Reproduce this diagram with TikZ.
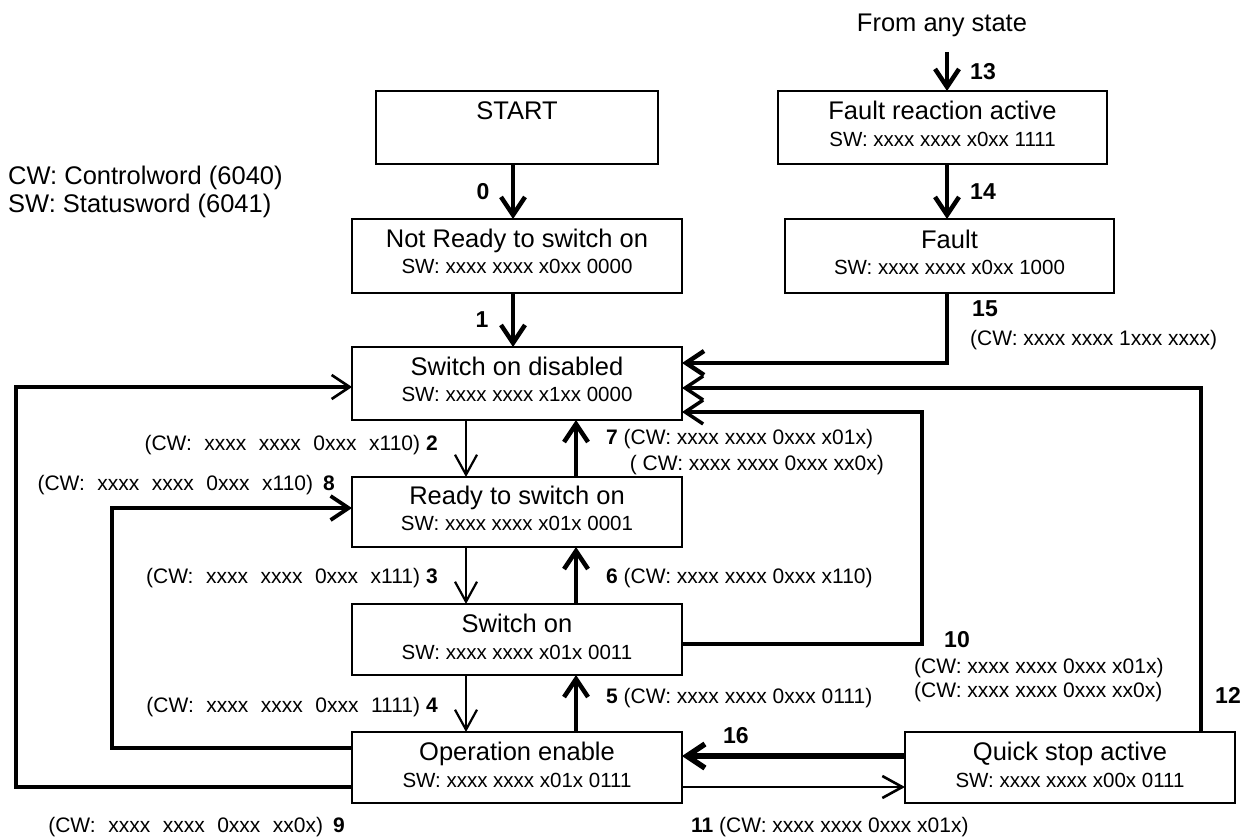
\documentclass[tikz,border=0pt]{standalone}
\usepackage{fontspec}
\setmainfont{Liberation Sans}
\usetikzlibrary{arrows.meta}
\newcommand{\wg}{\hspace{12.5pt}}
\begin{document}
\begin{tikzpicture}[x=1pt,y=-1pt,
  box/.style={draw, line width=1.5pt, inner sep=0pt, outer sep=0pt, anchor=north west},
  ttl/.style={anchor=base, inner sep=0pt, font=\fontsize{25.5}{30}\selectfont},
  swt/.style={anchor=base, inner sep=0pt, font=\fontsize{20.5}{24}\selectfont},
  lbl/.style={inner sep=0pt, font=\fontsize{21}{25}\selectfont},
  num/.style={inner sep=0pt, font=\bfseries\fontsize{23}{27}\selectfont},
  thk/.style={line width=4.5pt, -{Straight Barb[length=18pt,width=24pt]}},
  thn/.style={line width=2.2pt, -{Straight Barb[length=20pt,width=22pt]}},
  lp/.style={line width=3.8pt, -{Straight Barb[length=18pt,width=24pt]}},
]
\useasboundingbox (0,0) rectangle (1250,837);

% boxes
\node[box, minimum width=282pt, minimum height=73pt] (start) at (376,91) {};
\node[box, minimum width=330pt, minimum height=74pt] (nr) at (352,219) {};
\node[box, minimum width=330pt, minimum height=73pt] (sod) at (352,347) {};
\node[box, minimum width=330pt, minimum height=70pt] (rdy) at (352,477) {};
\node[box, minimum width=330pt, minimum height=71pt] (son) at (352,604) {};
\node[box, minimum width=330pt, minimum height=71pt] (oe) at (352,732) {};
\node[box, minimum width=329pt, minimum height=73pt] (fra) at (778,91) {};
\node[box, minimum width=329pt, minimum height=74pt] (flt) at (785,219) {};
\node[box, minimum width=330pt, minimum height=71pt] (qs) at (905,732) {};

% box texts
\node[ttl] (startT) at ([yshift=-28.5pt]start.north) {START};
\node[ttl] (nrT) at ([yshift=-28.5pt]nr.north) {Not Ready to switch on};
\node[swt] (nrS) at ([yshift=-54.5pt]nr.north) {SW: xxxx xxxx x0xx 0000};
\node[ttl] (sodT) at ([yshift=-28.5pt]sod.north) {Switch on disabled};
\node[swt] (sodS) at ([yshift=-54pt]sod.north) {SW: xxxx xxxx x1xx 0000};
\node[ttl] (rdyT) at ([yshift=-27.5pt]rdy.north) {Ready to switch on};
\node[swt] (rdyS) at ([yshift=-53pt]rdy.north) {SW: xxxx xxxx x01x 0001};
\node[ttl] (sonT) at ([yshift=-28.5pt]son.north) {Switch on};
\node[swt] (sonS) at ([yshift=-55pt]son.north) {SW: xxxx xxxx x01x 0011};
\node[ttl] (oeT) at ([yshift=-28.5pt]oe.north) {Operation enable};
\node[swt] (oeS) at ([yshift=-55pt]oe.north) {SW: xxxx xxxx x01x 0111};
\node[ttl] (fraT) at ([yshift=-29pt]fra.north) {Fault reaction active};
\node[swt] (fraS) at ([yshift=-56pt]fra.north) {SW: xxxx xxxx x0xx 1111};
\node[ttl] (fltT) at ([yshift=-29pt]flt.north) {Fault};
\node[swt] (fltS) at ([yshift=-55pt]flt.north) {SW: xxxx xxxx x0xx 1000};
\node[ttl] (qsT) at ([yshift=-28.5pt]qs.north) {Quick stop active};
\node[swt] (qsS) at ([yshift=-55pt]qs.north) {SW: xxxx xxxx x00x 0111};

% free texts
\node[ttl] (from) at (942,32) {From any state};
\node[ttl, anchor=base west] (leg1) at (8,185) {CW: Controlword (6040)};
\node[ttl, anchor=base west] (leg2) at (8,213) {SW: Statusword (6041)};

% helper coordinates
\coordinate (x0) at (513,0);
\coordinate (xl) at (466,0);
\coordinate (xr) at (576,0);
\coordinate (c13) at (947,52);
\coordinate (c15) at (947,363);
\coordinate (c12) at (1201,388);
\coordinate (c10) at (922,412);
\coordinate (c9) at (16,387);
\coordinate (c8) at (112,508);

% main column
\draw[thk] (start.south -| x0) -- (nr.north -| x0);
\draw[thk] (nr.south -| x0) -- (sod.north -| x0);
\draw[thn] (sod.south -| xl) -- (rdy.north -| xl);
\draw[thk] (rdy.north -| xr) -- (sod.south -| xr);
\draw[thn] (rdy.south -| xl) -- (son.north -| xl);
\draw[thk] (son.north -| xr) -- (rdy.south -| xr);
\draw[thn] (son.south -| xl) -- (oe.north -| xl);
\draw[thk] (oe.north -| xr) -- (son.south -| xr);

% fault column
\draw[thk] (c13) -- (fra.north -| c13);
\draw[thk] (fra.south -| c13) -- (flt.north -| c13);
\draw[thk] (flt.south -| c15) -- (c15) -- ([yshift=20.5pt]sod.east);

% loops
\draw[lp, line width=3.5pt] (qs.north -| c12) -- (c12) -- ([yshift=-4.5pt]sod.east);
\draw[lp, line width=3.5pt] ([yshift=-4.5pt]son.east) -| (c10) -- ([yshift=-28.5pt]sod.east);
\draw[line width=3.5pt, -{Straight Barb[length=18pt,width=24pt,line width=2.6pt]}] ([yshift=-19.5pt]oe.west) -| (c9) -- ([yshift=-3.5pt]sod.west);
\draw[lp] ([yshift=19.5pt]oe.west) -| (c8) -- ([yshift=4pt]rdy.west);

% quick stop
\draw[thk, line width=5.5pt] ([yshift=11.5pt]qs.west) -- ([yshift=11.5pt]qs.west -| oe.east);
\draw[thn, line width=2.6pt] ([yshift=-19.5pt]oe.east) -- ([yshift=-19.5pt]oe.east -| qs.west);

% transition labels
\node[num, anchor=base] (n0) at (483,199.5) {0};
\node[num, anchor=base] (n1) at (482,327.5) {1};
\node[num, anchor=base west] (n13) at (970,80) {13};
\node[num, anchor=base west] (n14) at (970,200) {14};
\node[num, anchor=base west] (n15) at (972,316.5) {15};
\node[lbl, anchor=base west] (l15) at (970,345) {(CW: xxxx xxxx 1xxx xxxx)};

\node[lbl, anchor=base east] (l2) at (438,450) {(CW:\wg xxxx\wg xxxx\wg 0xxx\wg x110)\hspace{6pt}\textbf{2}};
\node[lbl, anchor=base east] (l8) at (335,490) {(CW:\wg xxxx\wg xxxx\wg 0xxx\wg x110)\hspace{10pt}\textbf{8}};
\node[lbl, anchor=base east] (l3) at (438,583) {(CW:\wg xxxx\wg xxxx\wg 0xxx\wg x111)\hspace{6pt}\textbf{3}};
\node[lbl, anchor=base east] (l4) at (438,712) {(CW:\wg xxxx\wg xxxx\wg 0xxx\wg 1111)\hspace{6pt}\textbf{4}};
\node[lbl, anchor=base east] (l9) at (345,832) {(CW:\wg xxxx\wg xxxx\wg 0xxx\wg xx0x)\hspace{10pt}\textbf{9}};

\node[lbl, anchor=base west] (l7) at (606,444) {\textbf{7} (CW: xxxx xxxx 0xxx x01x)};
\node[lbl, anchor=base east] (l7b) at (884,470) {( CW: xxxx xxxx 0xxx xx0x)};
\node[lbl, anchor=base west] (l6) at (606,583) {\textbf{6} (CW: xxxx xxxx 0xxx x110)};
\node[lbl, anchor=base west] (l5) at (606,703) {\textbf{5} (CW: xxxx xxxx 0xxx 0111)};

\node[num, anchor=base west] (n10) at (944,647) {10};
\node[lbl, anchor=base west] (l10a) at (914,673) {(CW: xxxx xxxx 0xxx x01x)};
\node[lbl, anchor=base west] (l10b) at (914,697) {(CW: xxxx xxxx 0xxx xx0x)};
\node[num, anchor=base west] (n12) at (1215,703) {12};
\node[num, anchor=base west] (n16) at (723,743) {16};
\node[lbl, anchor=base west] (l11) at (691,832) {\textbf{11} (CW: xxxx xxxx 0xxx x01x)};
\end{tikzpicture}
\end{document}
